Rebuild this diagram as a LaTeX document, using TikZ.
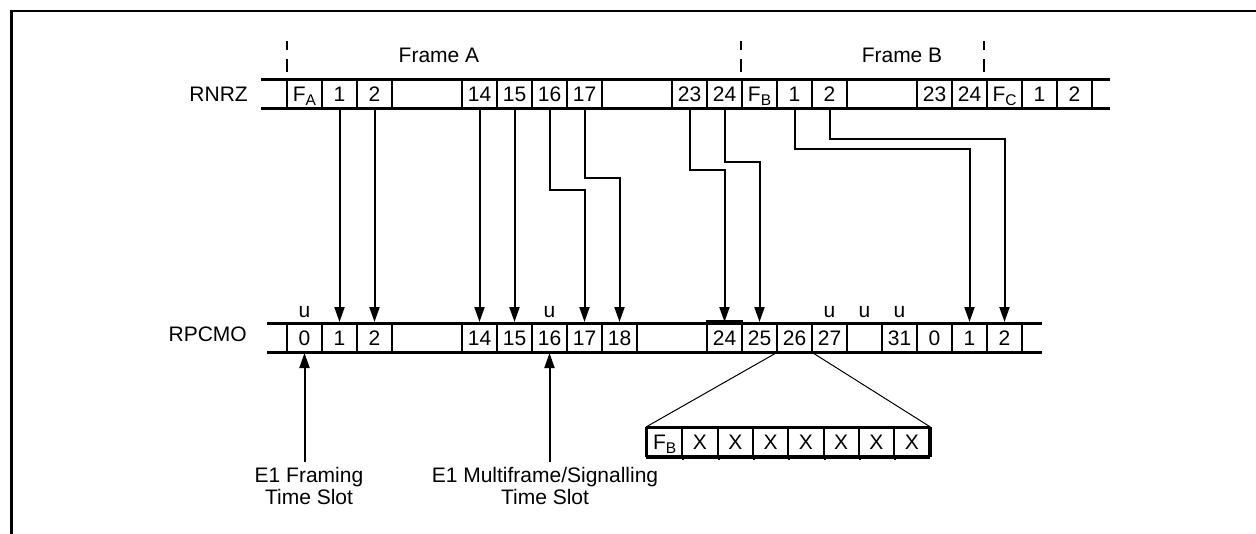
\documentclass[tikz,border=0pt]{standalone}
\usepackage{fontspec}
\setmainfont{Liberation Sans}
\usetikzlibrary{arrows.meta,calc}
\newcommand\subl[1]{\raisebox{-4pt}{\fontsize{15.5}{15.5}\selectfont #1}}
\begin{document}
\begin{tikzpicture}[x=1pt,y=-1pt,font=\fontsize{21}{22}\selectfont,
  cell/.style={draw,line width=2pt,minimum width=35pt,minimum height=29pt,inner sep=0pt,text height=15pt,text depth=0pt},
  ecell/.style={cell,minimum width=35.3pt,minimum height=28pt},
  rowline/.style={line width=3pt},
  arr/.style={line width=2pt,-{Triangle[length=15pt,width=10pt]}},
  tickline/.style={line width=2pt,dash pattern=on 9pt off 9pt on 13pt off 0pt},
  txt/.style={inner sep=0pt},
  lbl/.style={align=center,inner sep=0pt,anchor=north},
  thinline/.style={line width=1pt}]
\useasboundingbox (0,0) rectangle (1256,533);
% outer frame
\draw[line width=2.5pt] (1260,11) -- (11.5,11) -- (11.5,540);
% RNRZ row
\foreach \k/\t/\n in {0/F\subl{A}/rFA,1/1/r1,2/2/r2,5/14/r14,6/15/r15,7/16/r16,8/17/r17,
  11/23/r23,12/24/r24,13/F\subl{B}/rFB,14/1/rB1,15/2/rB2,18/23/rB23,19/24/rB24,
  20/F\subl{C}/rFC,21/1/rC1,22/2/rC2}
  \node[cell] (\n) at ({304.5+35*\k},93.5) {\t};
\draw[rowline] (261,79) -- (1110,79);
\draw[rowline] (261,108) -- (1110,108);
% RPCMO row
\foreach \k/\t/\n in {0/0/p0,1/1/p1,2/2/p2,5/14/p14,6/15/p15,7/16/p16,8/17/p17,9/18/p18,
  12/24/p24,13/25/p25,14/26/p26,15/27/p27,16//pe,17/31/p31,18/0/pB0,19/1/pB1,20/2/pB2}
  \node[cell] (\n) at ({304.5+35*\k},337.5) {\t};
\draw[rowline] (267,323) -- (1042,323);
\draw[rowline] (267,352) -- (1042,352);
\draw[line width=1.5pt] ([yshift=1pt]p24.north west) -- ([yshift=1pt]p24.north east);
% labels
\node[txt,anchor=base east] (lRNRZ) at (248,101.5) {RNRZ};
\node[txt,anchor=base east] (lRPCMO) at (247,341.5) {RPCMO};
\node[txt,anchor=base] (fA) at (439,62.5) {Frame A};
\node[txt,anchor=base] (fB) at (902,62.5) {Frame B};
% frame boundary ticks
\draw[tickline] (287,41) -- (287,72);
\draw[tickline] (741,41) -- (741,72);
\draw[tickline] (984,41) -- (984,72);
% u marks
\foreach \n in {p0,p16,p27,pe,p31}
  \node[txt,anchor=base] (u\n) at ($(\n.north)+(0,-5)$) {u};
% straight arrows
\draw[arr] (r1.south) -- (p1.north);
\draw[arr] (r2.south) -- (p2.north);
\draw[arr] (r14.south) -- (p14.north);
\draw[arr] (r15.south) -- (p15.north);
% stepped arrows
\draw[arr] (r16.south) -- ++(0,81) -| (p17.north);
\draw[arr] (r17.south) -- ++(0,69) -| (p18.north);
\draw[arr] (r23.south) -- ++(0,61) -| (p24.north);
\draw[arr] (r24.south) -- ++(0,53) -| (p25.north);
\draw[arr] (rB1.south) -- ++(0,40) -| (pB1.north);
\draw[arr] (rB2.south) -- ++(0,30) -| (pB2.north);
% bottom labels and arrows
\node[lbl] (lab1) at (309,467) {E1 Framing\\Time Slot};
\node[lbl] (lab2) at (545,467) {E1 Multiframe/Signalling\\Time Slot};
\draw[arr] ($(lab1.north -| p0.south)+(0,-5)$) -- (p0.south);
\draw[arr] ($(lab2.north -| p16.south)+(0,-5)$) -- (p16.south);
% expansion of slot 26
\foreach \k/\t in {0/F\subl{B},1/X,2/X,3/X,4/X,5/X,6/X,7/X}
  \node[ecell] (e\k) at ({647+35.3*(\k+0.5)},442) {\t};
\foreach \k in {0,...,6}
  \draw[line width=2pt] (e\k.south east) -- ++(0,3);
\draw[rowline] (e0.north west) -- (e7.north east);
\draw[rowline] (e0.south west) -- (e7.south east);
\draw[line width=2.5pt] (e0.north west) -- (e0.south west);
\draw[line width=2.5pt] (e7.north east) -- (e7.south east);
\draw[thinline] (p26.south west) -- (e0.north west);
\draw[thinline] (p26.south east) -- (e7.north east);
\end{tikzpicture}
\end{document}
